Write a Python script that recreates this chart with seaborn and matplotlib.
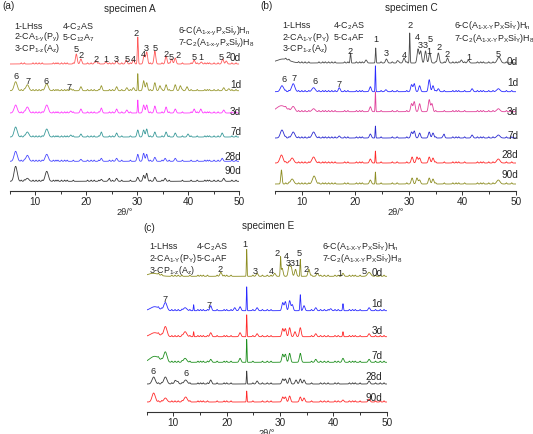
import numpy as np
import pandas as pd
import matplotlib.pyplot as plt
import seaborn as sns
from matplotlib.ticker import MultipleLocator

sns.set_style('white')
plt.rcParams['font.family'] = ['Liberation Sans', 'DejaVu Sans']
plt.rcParams['mathtext.fontset'] = 'custom'
plt.rcParams['mathtext.rm'] = 'Liberation Sans'
plt.rcParams['mathtext.it'] = 'Liberation Sans:italic'

ages = ['0d', '1d', '3d', '7d', '28d', '90d']
theta = np.linspace(5, 50, 3000)

# reflections: (2theta, height[, width])
a_peaks = {
    '0d': [(18.1, 10), (19.0, 5), (22.0, 3), (23.9, 2), (26.0, 3), (27.9, 4), (29.3, 4), (30.15, 27, 0.09),
           (31.4, 9), (31.9, 12), (33.5, 13), (35.7, 8), (36.8, 5), (37.5, 6), (41.2, 4), (42.6, 2), (46.8, 5), (47.5, 3)],
    '1d': [(6.2, 9), (8.5, 6), (12.3, 7), (17.0, 2), (19.0, 4), (23.0, 5), (26.0, 4), (28.0, 3), (29.3, 3),
           (30.15, 17, 0.07), (31.3, 10), (31.9, 8), (33.5, 8), (34.5, 5), (35.7, 6), (37.5, 6), (38.5, 5),
           (39.8, 4), (47.0, 3), (48.0, 2)],
    '3d': [(6.2, 8), (8.5, 6), (12.3, 8), (17.0, 2), (19.0, 4), (23.0, 5), (26.0, 4), (28.0, 3), (30.15, 13, 0.07),
           (31.3, 8), (31.9, 8), (33.5, 7), (35.7, 6), (37.5, 4), (41.2, 4), (42.5, 4), (47.0, 3)],
    '7d': [(6.2, 10), (8.5, 5), (12.3, 8), (17.0, 2), (19.0, 3), (23.0, 5), (26.0, 4), (30.15, 7), (31.3, 7),
           (31.9, 8), (33.5, 5), (35.7, 5), (37.5, 4), (40.0, 3), (46.7, 4)],
    '28d': [(6.2, 10), (8.5, 6), (12.3, 7), (19.0, 2), (23.0, 3), (26.0, 3), (30.15, 7), (31.3, 8), (31.9, 7),
            (33.5, 4), (35.5, 3), (37.5, 3), (46.7, 3)],
    '90d': [(6.2, 15), (8.5, 3), (12.3, 10), (23.0, 2), (24.5, 2), (26.0, 3), (30.15, 4), (31.3, 6), (31.9, 8),
            (33.5, 4), (35.5, 3), (47.0, 3)],
}
c_peaks = {
    '0d': [(6.5, 4, 1.2), (19.1, 10, 0.08), (22.0, 3), (23.8, 15, 0.07), (25.8, 4), (28.0, 2), (29.1, 5),
           (30.15, 30, 0.07), (31.7, 14), (32.2, 12), (33.1, 12), (33.9, 10), (35.5, 10), (37.2, 5), (39.8, 3),
           (41.1, 3), (46.8, 6, 0.3)],
    '1d': [(6.3, 6), (8.4, 8), (12.2, 4), (17.0, 4), (22.8, 5), (23.75, 26, 0.06), (25.7, 2), (30.5, 7),
           (31.0, 8), (32.0, 6), (33.8, 12), (34.5, 6), (35.5, 3), (41.8, 3), (46.7, 3, 0.3)],
    '3d': [(6.2, 6, 0.9), (8.4, 5), (12.2, 3), (22.8, 5), (23.75, 20, 0.06), (30.5, 8), (31.0, 10), (32.0, 8),
           (33.8, 12), (34.3, 8), (46.7, 3, 0.3)],
    '7d': [(6.3, 8), (8.4, 6), (12.2, 6), (17.0, 2), (22.8, 4), (23.75, 12, 0.06), (30.5, 6), (31.0, 7),
           (32.0, 5), (33.8, 6), (34.5, 5), (36.5, 3), (41.8, 3), (46.7, 3, 0.3)],
    '28d': [(6.2, 8), (8.2, 5), (12.2, 6), (22.8, 4), (23.75, 12, 0.06), (30.6, 6), (31.5, 6), (32.0, 5),
            (33.8, 6), (34.5, 5), (46.7, 4, 0.3)],
    '90d': [(6.2, 14, 0.12), (8.2, 5), (12.3, 8), (22.8, 4), (23.75, 12, 0.06), (30.6, 6), (31.5, 6), (32.0, 4),
            (33.8, 6), (34.5, 5), (46.7, 4, 0.3)],
}
e_peaks = {
    '0d': [(6.2, 3, 1.0), (18.9, 4), (23.75, 27, 0.06), (25.7, 3), (29.0, 3), (30.1, 18, 0.07), (30.4, 8),
           (31.7, 11), (32.1, 9), (32.9, 7), (33.8, 17, 0.07), (35.4, 7), (37.0, 3), (41.8, 3), (46.7, 4, 0.3)],
    '1d': [(6.5, 4, 0.8), (8.5, 8), (12.2, 3), (13.8, 6, 0.06), (17.0, 5), (21.5, 3), (22.5, 4), (23.75, 24, 0.06),
           (25.7, 3), (30.5, 8), (31.0, 9), (31.8, 10), (32.3, 6), (33.8, 16, 0.08), (34.5, 5), (36.7, 3),
           (39.5, 2), (41.8, 7, 0.08), (46.7, 3)],
    '3d': [(6.5, 4, 0.8), (8.5, 10), (12.2, 5), (13.8, 5, 0.06), (17.0, 4), (22.5, 4), (23.75, 22, 0.06),
           (25.7, 3), (30.5, 8), (31.0, 8), (31.8, 9), (32.8, 5), (33.8, 9), (36.7, 3), (41.8, 5, 0.08), (46.7, 3)],
    '7d': [(6.5, 6, 0.9), (8.5, 10), (12.2, 4), (17.0, 3), (22.5, 4), (23.75, 23, 0.06), (30.5, 8), (31.0, 8),
           (31.8, 9), (33.8, 9), (36.7, 3), (41.8, 4), (46.7, 3)],
    '28d': [(6.3, 7), (8.5, 7), (10.5, 3), (12.3, 4), (17.0, 4), (23.75, 13, 0.06), (25.7, 3), (30.5, 5),
            (31.0, 5), (31.8, 6), (33.0, 4), (33.8, 5), (34.5, 4), (46.7, 3)],
    '90d': [(6.3, 9), (8.5, 4), (12.3, 5), (23.75, 11, 0.06), (30.5, 5), (31.0, 5), (31.8, 6), (33.8, 5),
            (34.5, 4), (41.8, 2), (46.7, 3)],
}
# weak reflections / background wiggles seen on every trace
a_minor = [7.3, 7.9, 9.6, 10.2, 10.8, 11.4, 13.6, 14.1, 14.5, 15.2, 15.8, 16.3, 17.5, 20.3, 21.0, 21.6, 22.5,
           24.6, 25.2, 27.0, 28.7, 32.6, 34.9, 36.3, 38.9, 40.6, 41.8, 43.3, 43.8, 44.2, 45.1, 45.9, 48.6, 49.4]
c_minor = [7.0, 7.6, 9.4, 10.0, 10.6, 11.3, 13.2, 13.9, 14.4, 15.0, 15.6, 16.2, 18.0, 18.6, 20.2, 20.8, 21.3,
           24.8, 26.9, 27.8, 29.6, 35.0, 36.6, 38.2, 38.8, 39.3, 40.4, 42.8, 43.4, 43.9, 44.9, 45.7, 48.2, 49.2]
e_minor = [7.2, 7.8, 9.7, 10.3, 10.9, 11.6, 13.1, 14.6, 15.1, 15.6, 16.4, 18.2, 19.5, 20.0, 20.8, 24.9, 26.7,
           27.6, 28.3, 35.9, 37.6, 38.3, 39.0, 40.3, 40.9, 43.0, 43.6, 44.1, 45.0, 47.9, 48.8, 49.5]

a_colors = ['#ff5a5a', '#9a9a33', '#ff3cff', '#3a9a9a', '#4a4aff', '#3a3a3a']
c_colors = ['#4a4a4a', '#2a2aff', '#e0409a', '#2a2ad0', '#ff2a2a', '#8d8d22']
e_colors = ['#8d8d22', '#2a2aff', '#ff2a2a', '#1f8f1f', '#3a3a3a', '#ff2a2a']

hy = '\u2010'  # plain hyphen inside subscripts
a_legend = [['1-LHss', r'2-CA$_{\mathrm{1' + hy + r'y}}$(P$_{\mathrm{y}}$)', r'3-CP$_{\mathrm{1' + hy + r'z}}$(A$_{\mathrm{z}}$)'],
            [r'4-C$_{\mathrm{2}}$AS', r'5-C$_{\mathrm{12}}$A$_{\mathrm{7}}$'],
            [r'6-C(A$_{\mathrm{1' + hy + 'x' + hy + r'y}}$P$_{\mathrm{x}}$Si$_{\mathrm{y}}$)H$_{\mathrm{n}}$',
             r'7-C$_{\mathrm{2}}$(A$_{\mathrm{1' + hy + 'x' + hy + r'y}}$P$_{\mathrm{x}}$Si$_{\mathrm{y}}$)H$_{\mathrm{8}}$']]
ce_legend = [['1-LHss', r'2-CA$_{\mathrm{1' + hy + r'Y}}$(P$_{\mathrm{Y}}$)', r'3-CP$_{\mathrm{1' + hy + r'z}}$(A$_{\mathrm{z}}$)'],
             [r'4-C$_{\mathrm{2}}$AS', r'5-C$_{\mathrm{4}}$AF'],
             [r'6-C(A$_{\mathrm{1' + hy + 'X' + hy + r'Y}}$P$_{\mathrm{X}}$Si$_{\mathrm{Y}}$)H$_{\mathrm{n}}$',
              r'7-C$_{\mathrm{2}}$(A$_{\mathrm{1' + hy + 'X' + hy + r'Y}}$P$_{\mathrm{X}}$Si$_{\mathrm{Y}}$)H$_{\mathrm{8}}$']]

# peak markers: (label, 2theta, height above axis in px)
a_marks = [('5', 18.0, 141.7), ('2', 19.0, 136.7), ('2', 22.0, 131.7), ('1', 23.9, 131.7), ('3', 26.0, 131.7),
           ('5', 28.0, 131.7), ('4', 29.2, 131.7), ('2', 29.9, 158.7), ('4', 31.3, 137), ('3', 31.9, 143.5),
           ('5', 33.5, 143.5), ('2', 35.7, 137.5), ('5', 36.8, 134.5), ('2', 38.0, 136.7), ('5', 41.3, 134.5),
           ('1', 42.5, 133.7), ('5', 46.6, 133.7), ('2', 47.8, 136.7),
           ('6', 6.2, 115), ('7', 8.7, 110), ('6', 12.2, 110), ('7', 16.7, 104)]
c_marks = [('2', 19.1, 140.5), ('1', 23.9, 151.7), ('3', 25.8, 138.5), ('4', 29.1, 136.5), ('2', 30.2, 165.7),
           ('4', 31.6, 153.7), ('3', 32.1, 146), ('3', 33.1, 146), ('1', 33.8, 140), ('5', 34.0, 151.7),
           ('2', 35.7, 144), ('2', 37.2, 137.5), ('1', 41.2, 134.5), ('5', 46.7, 137),
           ('6', 6.6, 112.4), ('7', 8.6, 112.7), ('6', 12.5, 109.7), ('7', 17.0, 106.7)]
e_marks = [('1', 23.5, 168), ('2', 18.7, 143), ('3', 25.3, 141.3), ('4', 28.4, 142), ('2', 29.5, 159),
           ('4', 31.1, 156.3), ('3', 31.5, 149), ('3', 32.2, 149), ('1', 33.2, 149), ('5', 33.6, 159),
           ('2', 34.9, 144), ('2', 36.8, 142), ('1', 41.3, 140), ('5', 45.8, 142),
           ('7', 8.4, 114), ('7', 16.7, 108), ('6', 6.2, 41.3), ('6', 12.4, 39)]

W, H = 533, 435

panels = [
    dict(peaks=a_peaks, minor=a_minor, colors=a_colors, legend=a_legend, marks=a_marks,
         rect=(9.5, 191.7, 229.5, 191.7), offsets=[126.7, 100, 77.7, 53.7, 29.4, 9.4],
         age_x=50.4, age_y=[133.7, 106.7, 80, 60, 35, 20.7],
         title='specimen A', title_xy=(130, 9), tag='(a)', tag_xy=(2, 6),
         leg_x=[14, 61.7, 178], leg_y=[[26, 36.7, 47.7], [26, 36.7], [30, 41.7]]),
    dict(peaks=c_peaks, minor=c_minor, colors=c_colors, legend=ce_legend, marks=c_marks,
         rect=(275, 191.7, 241, 191.7), offsets=[127.7, 99, 79, 52.7, 27.7, 6.7],
         age_x=50.4, age_y=[129.7, 108.7, 80, 55.7, 36.7, 16.7],
         title='specimen C', title_xy=(411, 8), tag='(b)', tag_xy=(260, 6),
         leg_x=[282, 332.7, 454], leg_y=[[25, 36.7, 48], [25, 36.7], [25, 37.3]]),
    dict(peaks=e_peaks, minor=e_minor, colors=e_colors, legend=ce_legend, marks=e_marks,
         rect=(146.7, 413, 240, 193), offsets=[135.7, 101.3, 75.3, 49.7, 28, 10],
         age_x=49.2, age_y=[140, 109, 82, 57, 36, 15],
         title='specimen E', title_xy=(268, 226), tag='(c)', tag_xy=(143, 228),
         leg_x=[149, 196, 321.7], leg_y=[[246, 257.7, 270], [246, 258], [246, 258]]),
]


def pattern(peaks, minor):
    y = np.zeros_like(theta)
    for pk in peaks:
        pos, h = pk[0], pk[1]
        w = pk[2] if len(pk) > 2 else (0.3 if pos < 13 else 0.17)
        y += h * np.exp(-0.5 * ((theta - pos) / w) ** 2)
    for pos in minor:
        y += 1.2 * np.exp(-0.5 * ((theta - pos) / 0.09) ** 2)
    return y


fig = plt.figure(figsize=(W / 100, H / 100), dpi=100)
fs = 6.8

for p in panels:
    left, spine_y, width, height = p['rect']
    ax = fig.add_axes([left / W, (H - spine_y) / H, width / W, height / H])
    ax.patch.set_alpha(0)
    frames = []
    for age, off in zip(ages, p['offsets']):
        frames.append(pd.DataFrame({'theta': theta,
                                    'signal': pattern(p['peaks'][age], p['minor']) + off,
                                    'age': age}))
    df = pd.concat(frames)
    sns.lineplot(data=df, x='theta', y='signal', hue='age', palette=dict(zip(ages, p['colors'])),
                 estimator=None, linewidth=0.6, legend=False, ax=ax)
    ax.set_xlim(5, 50)
    ax.set_ylim(0, height)
    ax.set_yticks([])
    ax.set_ylabel('')
    ax.xaxis.set_major_locator(MultipleLocator(10))
    ax.xaxis.set_minor_locator(MultipleLocator(5))
    ax.tick_params(axis='x', which='both', direction='out', bottom=True, color='#333333',
                   labelsize=fs + 0.4, pad=0.8, width=0.7)
    ax.tick_params(axis='x', which='major', length=3)
    ax.tick_params(axis='x', which='minor', length=2)
    for s in ['top', 'left', 'right']:
        ax.spines[s].set_visible(False)
    ax.spines['bottom'].set_linewidth(0.8)
    ax.spines['bottom'].set_color('#333333')
    ax.set_xlabel('2θ/°', fontsize=fs - 0.2, labelpad=0.5)

    for lab, x, y in p['marks']:
        ax.text(x, y, lab, fontsize=fs - 0.2, ha='center', va='center', clip_on=False)
    for age, y in zip(ages, p['age_y']):
        ax.text(p['age_x'], y, age, fontsize=fs + 0.4, ha='right', va='center', clip_on=False)

    fig.text(p['title_xy'][0] / W, 1 - p['title_xy'][1] / H, p['title'], fontsize=fs + 0.4,
             ha='center', va='center')
    fig.text(p['tag_xy'][0] / W, 1 - p['tag_xy'][1] / H, p['tag'], fontsize=fs + 0.4,
             ha='left', va='center')
    for col, xs, ys in zip(p['legend'], p['leg_x'], p['leg_y']):
        for txt, y in zip(col, ys):
            fig.text(xs / W, 1 - (y + 3.3) / H, txt, fontsize=fs - 0.4, ha='left', va='baseline')

fig.savefig('out.png', dpi=100)
